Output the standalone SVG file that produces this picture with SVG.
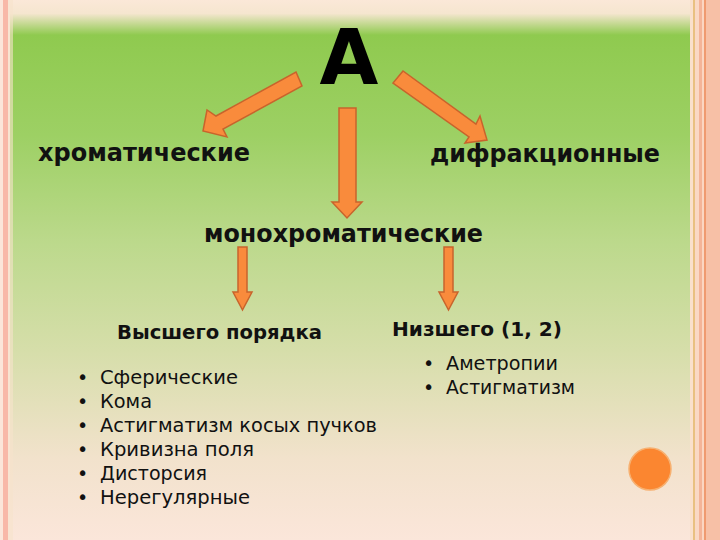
<svg xmlns="http://www.w3.org/2000/svg" width="720" height="540" viewBox="0 0 720 540">
<defs>
<linearGradient id="bg" x1="0" y1="0" x2="0" y2="1">
<stop offset="0" stop-color="#fbe8d8"/>
<stop offset="0.025" stop-color="#f5e6cf"/>
<stop offset="0.065" stop-color="#8fca4f"/>
<stop offset="0.25" stop-color="#9dd064"/>
<stop offset="0.45" stop-color="#bcd98c"/>
<stop offset="0.65" stop-color="#d6deaa"/>
<stop offset="0.85" stop-color="#f2e2cc"/>
<stop offset="1" stop-color="#fbe6da"/>
</linearGradient>
<style>
.arrow{fill:#f98b3c;stroke:#c8642c;stroke-width:1.5;stroke-linejoin:miter}
.big{font-family:"DejaVu Sans",Verdana,sans-serif;font-weight:bold;fill:#000}
.hd{font-family:"DejaVu Sans",Verdana,sans-serif;font-weight:bold;fill:#111;font-size:24px}
.sub{font-family:"DejaVu Sans",Verdana,sans-serif;font-weight:bold;fill:#111;font-size:19px}
.li{font-family:"DejaVu Sans",Tahoma,sans-serif;fill:#111;font-size:19px}
</style>
</defs>
<rect x="0" y="0" width="720" height="540" fill="#fbe6da"/>
<rect x="10" y="0" width="680" height="540" fill="url(#bg)"/>
<rect x="3" y="0" width="5" height="540" fill="#f8b8a8"/>
<rect x="8" y="0" width="5" height="540" fill="#f6e2cc" opacity="0.6"/>
<rect x="690" y="0" width="30" height="540" fill="#f8c6ae"/>
<rect x="690" y="0" width="3" height="540" fill="#fae0cc"/>
<rect x="693" y="0" width="2" height="540" fill="#e9c080"/>
<rect x="695" y="0" width="4" height="540" fill="#fad8c4"/>
<rect x="699" y="0" width="3" height="540" fill="#f4b498"/>
<rect x="702" y="0" width="2" height="540" fill="#fbd6c2"/>
<rect x="704" y="0" width="2" height="540" fill="#ef9a70"/>
<rect x="706" y="0" width="14" height="540" fill="#f7c0a6"/>

<g id="connectors">
<polygon class="arrow" points="296,72 302,86 223,129 227,137 203,131 207,110 216,116"/>
<polygon class="arrow" points="339,108 356,108 356,202 362,202 347,218 332,202 339,202"/>
<polygon class="arrow" points="403,71 393,83 469,137 465,143 487,140 480,116 476,124"/>
<polygon class="arrow" points="238,247 247,247 247,292 252,292 242.5,310 233,292 238,292"/>
<polygon class="arrow" points="444,247 453,247 453,292 458,292 448.5,310 439,292 444,292"/>
</g>

<g id="node-A"><text class="big" x="349" y="84" font-size="76" text-anchor="middle">A</text></g>
<g id="node-chrom"><text class="hd" x="38" y="161" textLength="212" lengthAdjust="spacingAndGlyphs">хроматические</text></g>
<g id="node-diffr"><text class="hd" x="430" y="162" textLength="230" lengthAdjust="spacingAndGlyphs">дифракционные</text></g>
<g id="node-mono"><text class="hd" x="204" y="242" textLength="279" lengthAdjust="spacingAndGlyphs">монохроматические</text></g>
<g id="node-high">
<text class="sub" x="117" y="339" textLength="205" lengthAdjust="spacingAndGlyphs">Высшего порядка</text>
<g class="li">
<text x="77" y="384">•</text><text x="100" y="384" textLength="138" lengthAdjust="spacingAndGlyphs">Сферические</text>
<text x="77" y="408">•</text><text x="100" y="408" textLength="52" lengthAdjust="spacingAndGlyphs">Кома</text>
<text x="77" y="432">•</text><text x="100" y="432" textLength="277" lengthAdjust="spacingAndGlyphs">Астигматизм косых пучков</text>
<text x="77" y="456">•</text><text x="100" y="456" textLength="154" lengthAdjust="spacingAndGlyphs">Кривизна поля</text>
<text x="77" y="480">•</text><text x="100" y="480" textLength="107" lengthAdjust="spacingAndGlyphs">Дисторсия</text>
<text x="77" y="504">•</text><text x="100" y="504" textLength="150" lengthAdjust="spacingAndGlyphs">Нерегулярные</text>
</g>
</g>
<g id="node-low">
<text class="sub" x="392" y="336" textLength="170" lengthAdjust="spacingAndGlyphs">Низшего (1, 2)</text>
<g class="li">
<text x="423" y="370">•</text><text x="446" y="370" textLength="112" lengthAdjust="spacingAndGlyphs">Аметропии</text>
<text x="423" y="394">•</text><text x="446" y="394" textLength="129" lengthAdjust="spacingAndGlyphs">Астигматизм</text>
</g>
</g>
<circle cx="650" cy="469" r="21" fill="#fb8630" stroke="#f7b070" stroke-width="1.5"/>
</svg>
